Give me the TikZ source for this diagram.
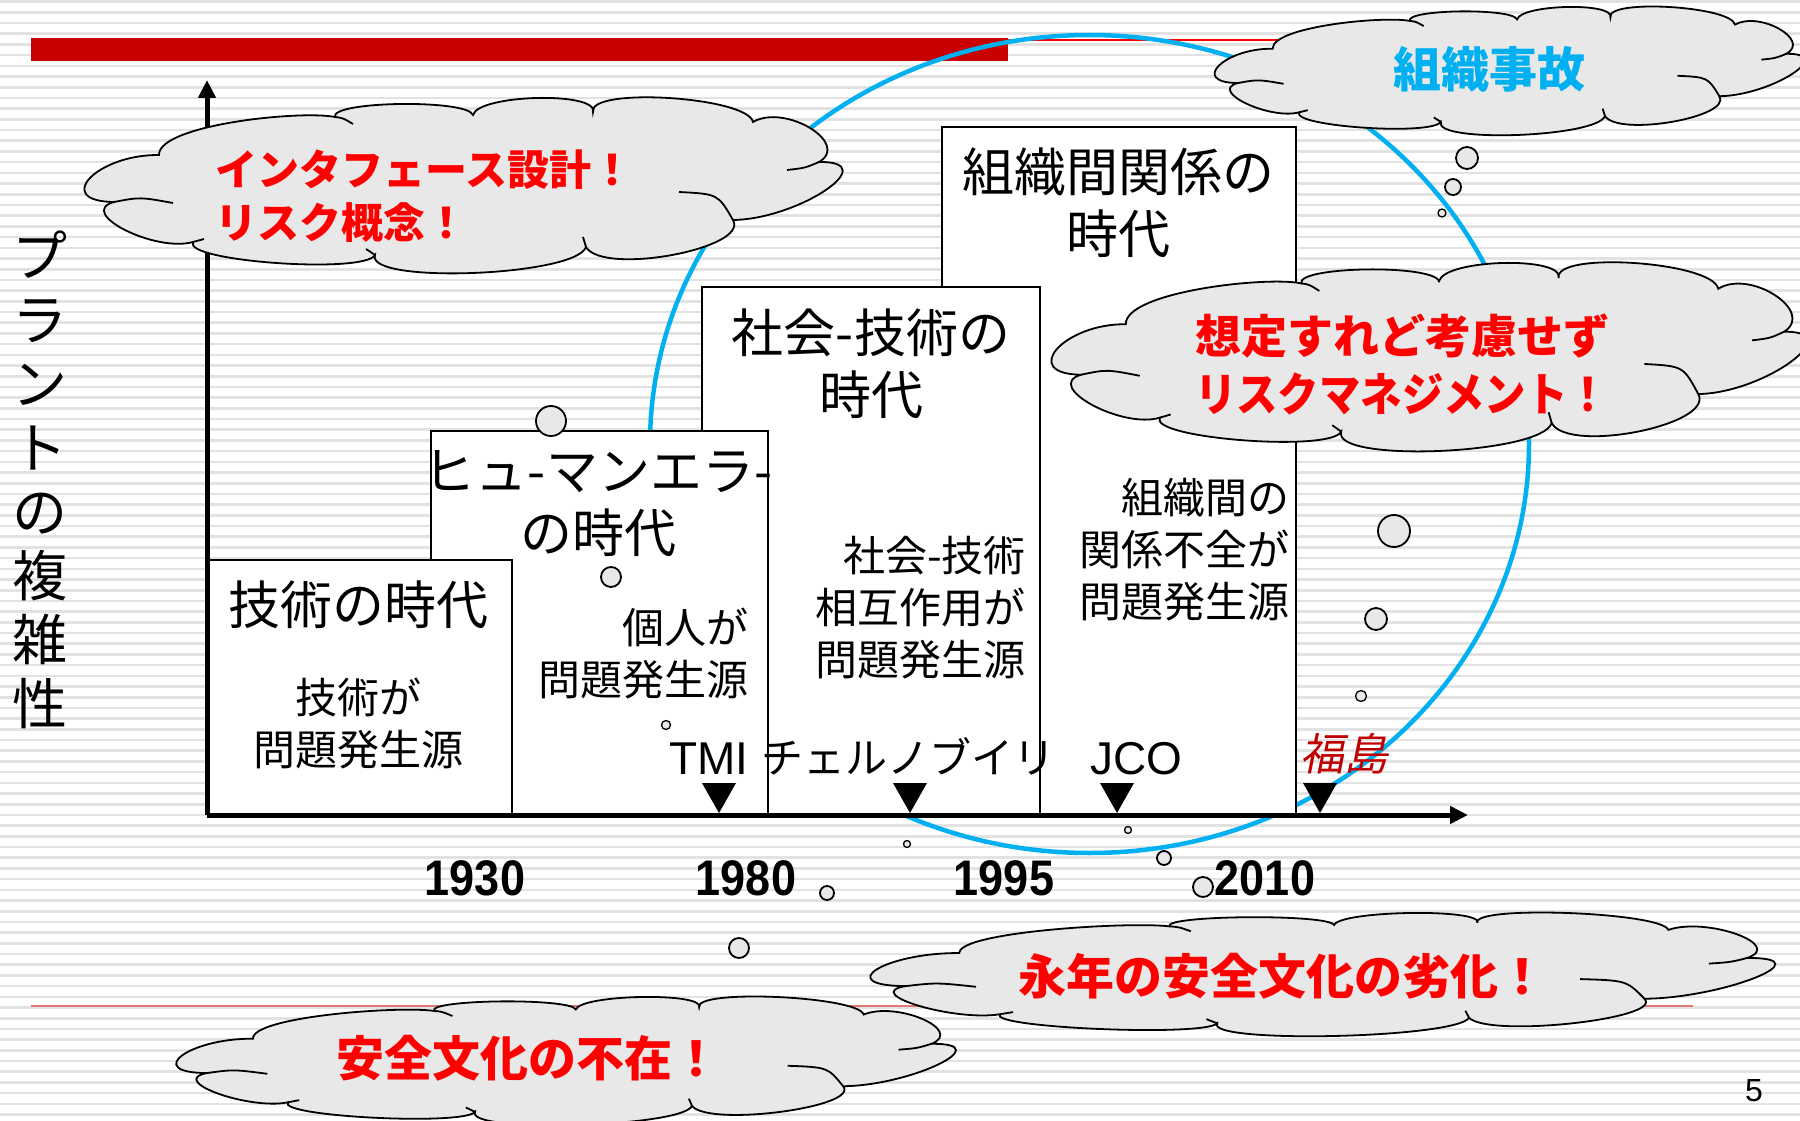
\documentclass[tikz,border=0pt]{standalone}
\usepackage{fontspec}
\setmainfont{Noto Sans CJK JP}
\newfontfamily\jpit[FakeSlant=0.2]{Noto Sans CJK JP}
\newfontfamily\latn{Liberation Sans}
\usetikzlibrary{arrows.meta}
\definecolor{barred}{HTML}{C80000}
\definecolor{linered}{HTML}{E07878}
\definecolor{cyanc}{HTML}{00B0F0}
\definecolor{cloudgray}{HTML}{E8E8E8}
\definecolor{stripecol}{HTML}{E2E2E2}
\definecolor{darkred}{HTML}{C00000}
\definecolor{txtred}{HTML}{FF0000}
% cloud outline, drawn in a reference frame whose box is (90,98)-(834,273)
\newcommand\cloudpath{(159,155) .. controls (97,154.3) and (52,201.3) .. (114,202)
 .. controls (76,212.7) and (155,252.7) .. (193,242)
 .. controls (182.3,261.3) and (364.3,274.3) .. (375,255)
 .. controls (365,284.3) and (576,276.3) .. (586,247)
 .. controls (602.7,275.7) and (749.7,248.7) .. (733,220)
 .. controls (799,219) and (885,161) .. (819,162)
 .. controls (851,143.3) and (785,103.3) .. (753,122)
 .. controls (747.7,96.7) and (587.7,86.7) .. (593,112)
 .. controls (598.3,91.3) and (478.3,94.3) .. (473,115)
 .. controls (467.7,99) and (329.7,101) .. (335,117)
 .. controls (300,110) and (158,125) .. (159,155) -- cycle}
\newcommand\cloudinner{(114,202) .. controls (140,197) .. (173,203)
 (679,192) .. controls (718,194) .. (733,220)
 (787,170) .. controls (805,168) .. (819,162)
 (335,117) .. controls (343,118) .. (353,124)
 (375,255) -- (366,249)
 (193,242) -- (204,239)
 (586,247) -- (583,237)}
% #1 name, #2 left, #3 top, #4 width, #5 height
\newcommand\drawcloud[5]{%
  \coordinate (#1) at ({#2+#4/2},{#3+#5/2});
  \begin{scope}[shift={(#2,#3)}, xscale=#4/744, yscale=#5/175, shift={(-90,-98)}]
    \filldraw[cloudline] \cloudpath;
    \draw[cloudline] \cloudinner;
  \end{scope}}
\begin{document}
\begin{tikzpicture}[x=1pt,y=-1pt,
  box/.style={draw=black, line width=2pt, fill=white, inner sep=0pt, anchor=north west},
  titletext/.style={font=\fontsize{52}{62}\selectfont, align=center, inner sep=0pt},
  bodytext/.style={font=\fontsize{42}{52}\selectfont, inner sep=0pt},
  cloudline/.style={draw=black, line width=1.8pt, fill=cloudgray},
  bubble/.style={circle, draw=black, line width=1.8pt, fill=cloudgray, inner sep=0pt},
  ctext/.style={font=\fontsize{46}{56}\selectfont\bfseries, text=txtred, inner sep=0pt},
  evttext/.style={font=\fontsize{42}{52}\selectfont, inner sep=0pt, anchor=base west},
  evtlatin/.style={font=\latn\fontsize{46}{52}\selectfont, inner sep=0pt, anchor=base west},
  yeartext/.style={font=\latn\bfseries\fontsize{50}{60}\selectfont, inner sep=0pt},
  axisline/.style={line width=5pt, -{Triangle[length=18pt,width=17pt]}},
  stripe/.style={stripecol, line width=2.6pt}
]
\useasboundingbox (0,0) rectangle (1800,1121);
\clip (0,0) rectangle (1800,1121);
% background stripes
\fill[white] (0,0) rectangle (1800,1121);
\foreach \i in {0,...,104} \draw[stripe] (0,1.7+10.7*\i) -- (1800,1.7+10.7*\i);
% title bars
\fill[barred] (31,38) rectangle (1008,61);
\draw[red, line width=2pt] (1008,40) -- (1320,40);
\draw[linered, line width=2pt] (31,1006) -- (1693,1006);
% cyan ellipse
\draw[cyanc, line width=4.5pt] (1089.5,444) ellipse [x radius=439.5pt, y radius=409pt];
% era boxes
\node[box, minimum width=354pt, minimum height=689pt] (b4) at (941,126) {};
\node[box, minimum width=338pt, minimum height=529pt] (b3) at (701,286) {};
\node[box, minimum width=337pt, minimum height=385pt] (b2) at (430,430) {};
\node[box, minimum width=304pt, minimum height=256pt] (b1) at (207,559) {};
% titles
\node[titletext] (t1) at (358,605) {技術の時代};
\node[titletext] (t2) at (598,504) {ヒュ-マンエラ-\\の時代};
\node[titletext] (t3) at (871,364) {社会-技術の\\時代};
\node[titletext] (t4) at (1118,203) {組織間関係の\\時代};
% bodies
\node[bodytext, align=center] (d1) at (358,724) {技術が\\問題発生源};
\node[bodytext, align=right, anchor=east] (d2) at (749,654) {個人が\\問題発生源};
\node[bodytext, align=right, anchor=east] (d3) at (1026,608) {社会-技術\\相互作用が\\問題発生源};
\node[bodytext, align=right, anchor=east] (d4) at (1290,550) {組織間の\\関係不全が\\問題発生源};
% axes
\coordinate (O) at (207,815);
\coordinate (ytop) at (207,80);
\coordinate (xend) at (1468,815);
\draw[axisline] (O) -- (ytop);
\draw[axisline] (O) -- (xend);
% vertical label
\node[font=\fontsize{55}{64}\selectfont, align=center, inner sep=0pt] (ylab) at (40,480) {プ\\ラ\\ン\\ト\\の\\複\\雑\\性};
% event labels and markers
\node[evtlatin] (tmi) at (669,774) {TMI};
\node[evttext] (cher) at (761,773) {チェルノブイリ};
\node[evtlatin] (jco) at (1090,774) {JCO};
\node[evttext, font=\jpit\fontsize{44}{52}\selectfont, text=darkred] (fuku) at (1300,770) {福島};
\foreach \x in {719,910,1117,1320} \fill[black] (\x-17,783) -- (\x+17,783) -- (\x,813) -- cycle;
% years
\node[yeartext] (y1930) at (475,878) {\scalebox{0.9}[1]{1930}};
\node[yeartext] (y1980) at (746,878) {\scalebox{0.9}[1]{1980}};
\node[yeartext] (y1995) at (1004,878) {\scalebox{0.9}[1]{1995}};
\node[yeartext] (y2010) at (1265,878) {\scalebox{0.9}[1]{2010}};
% bubbles
\node[bubble, minimum size=30pt] (p1) at (551,421) {};
\node[bubble, minimum size=20pt] (p2) at (611,577) {};
\node[bubble, minimum size=9pt, line width=1.3pt] (p3) at (666,725) {};
\node[bubble, minimum size=22pt] (p4) at (1467,158) {};
\node[bubble, minimum size=16pt] (p5) at (1453,187) {};
\node[bubble, minimum size=8pt, line width=1.3pt] (p6) at (1442,213) {};
\node[bubble, minimum size=32pt] (p7) at (1394,531) {};
\node[bubble, minimum size=22pt] (p8) at (1376,619) {};
\node[bubble, minimum size=11pt, line width=1.3pt] (p9) at (1361,696) {};
\node[bubble, minimum size=7pt, line width=1.3pt] (p10) at (1128,830) {};
\node[bubble, minimum size=14pt] (p11) at (1164,858) {};
\node[bubble, minimum size=20pt] (p12) at (1203,887) {};
\node[bubble, minimum size=7pt, line width=1.3pt] (p13) at (907,844) {};
\node[bubble, minimum size=14pt] (p14) at (827,893) {};
\node[bubble, minimum size=20pt] (p15) at (739,948) {};
% clouds
\drawcloud{cA}{90}{98}{744}{175}
\drawcloud{cB}{1219}{7}{579}{128}
\drawcloud{cC}{1057}{263}{742}{188}
\drawcloud{cD}{877}{913}{888}{123}
\drawcloud{cE}{182}{997}{765}{128}
% cloud texts
\node[ctext, font=\fontsize{42}{53}\selectfont\bfseries, align=left, anchor=west] (xA) at (215,196) {インタフェース設計！\\リスク概念！};
\node[ctext, text=cyanc, font=\fontsize{48}{56}\selectfont\bfseries] (xB) at (1489,69) {組織事故};
\node[ctext, align=center, font=\fontsize{46}{58}\selectfont\bfseries] (xC) at (1402,364) {想定すれど考慮せず\\\scalebox{0.9}[1]{リスクマネジメント！}};
\node[ctext, font=\fontsize{48}{56}\selectfont\bfseries] (xD) at (1282,976) {永年の安全文化の劣化！};
\node[ctext, font=\fontsize{48}{56}\selectfont\bfseries] (xE) at (528,1058) {安全文化の不在！};
% page number
\node[font=\latn\fontsize{32}{36}\selectfont, inner sep=0pt] (pg) at (1754,1091) {5};
\end{tikzpicture}
\end{document}
